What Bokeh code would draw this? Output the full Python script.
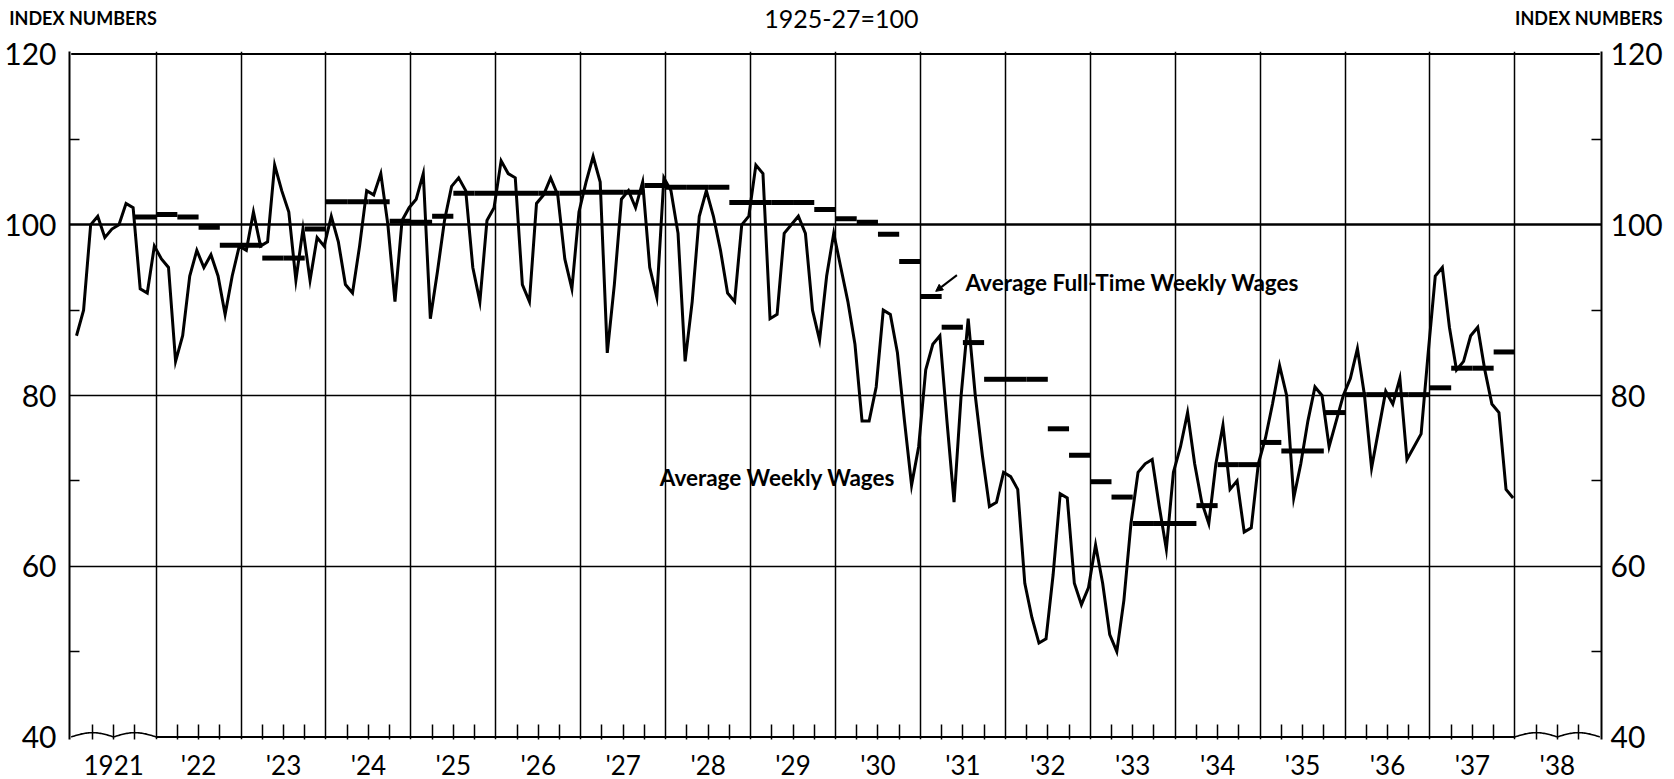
import numpy as np
from bokeh.plotting import figure
from bokeh.layouts import column
from bokeh.models import (FixedTicker, LinearAxis, Label, Arrow, NormalHead,
                          ColumnDataSource, Range1d, Grid)
from bokeh.embed import file_html
from bokeh.resources import INLINE

# ---------------- data (index numbers, 1925-27 = 100) ----------------
# Average Weekly Wages, monthly, Jan..Dec of each year
wages_1921 = [87, 90, 100, 101, 98.5, 99.5, 100, 102.5, 102, 92.5, 92, 97.5]
wages_1922 = [96, 95, 84, 87, 94, 97, 95, 96.5, 94, 89.5, 94, 97.5]
wages_1923 = [97, 101.5, 97.5, 98, 107, 104, 101.5, 93.5, 99.5, 93.5, 98.5, 97.5]
wages_1924 = [101, 98, 93, 92, 97.5, 104, 103.5, 106, 100, 91, 100.5, 102]
wages_1925 = [103, 106, 89, 94.5, 100.5, 104.5, 105.5, 104, 95, 91, 100.5, 102]
wages_1926 = [107.5, 106, 105.5, 93, 91, 102.5, 103.5, 105.5, 103.5, 96, 92.5, 101.5]
wages_1927 = [105, 108, 105, 85, 93, 103, 104, 102, 105, 95, 91.5, 105.5]
wages_1928 = [104, 99, 84, 91, 101, 104, 101, 97, 92, 91, 100, 101]
wages_1929 = [107, 106, 89, 89.5, 99, 100, 101, 99, 90, 86.5, 94, 99]
wages_1930 = [95, 91, 86, 77, 77, 81, 90, 89.5, 85, 77, 69.5, 74]
wages_1931 = [83, 86, 87, 77, 67.5, 80, 89, 80, 73, 67, 67.5, 71]
wages_1932 = [70.5, 69, 58, 54, 51, 51.5, 59, 68.5, 68, 58, 55.5, 57.5]
wages_1933 = [62.5, 58, 52, 50, 56, 65, 71, 72, 72.5, 67, 62, 71]
wages_1934 = [74, 78, 72, 67.5, 65, 72, 76.5, 69, 70, 64, 64.5, 72]
wages_1935 = [75, 79, 83.5, 80, 68, 72, 77, 81, 80, 74, 77, 80]
wages_1936 = [82, 85.5, 80, 71.5, 76, 80.5, 79, 82, 72.5, 74, 75.5, 85]
wages_1937 = [94, 95, 88, 83, 84, 87, 88, 83, 79, 78, 69, 68]

# Average Full-Time Weekly Wages, quarterly, from 1921 Q4 to 1937 Q4
ft_first_year = 1921
ft_first_quarter = 4
ft_values = [100.9,
             101.2, 100.9, 99.7, 97.6,
             97.6, 96.1, 96.1, 99.5,
             102.7, 102.7, 102.7, 100.4,
             100.3, 101.0, 103.7, 103.7,
             103.7, 103.7, 103.7, 103.7,
             103.8, 103.8, 103.8, 104.6,
             104.4, 104.4, 104.4, 102.6,
             102.6, 102.6, 102.6, 101.8,
             100.7, 100.3, 98.9, 95.7,
             91.6, 88.0, 86.2, 81.9,
             81.9, 81.9, 76.1, 73.0,
             69.9, 68.1, 65.0, 65.0,
             65.0, 67.1, 71.9, 71.9,
             74.5, 73.5, 73.5, 78.0,
             80.1, 80.1, 80.1, 80.1,
             80.9, 83.2, 83.2, 85.1]

# axis labels
x_years = list(range(1921, 1939))
x_labels = ["1921", "'22", "'23", "'24", "'25", "'26", "'27", "'28", "'29",
            "'30", "'31", "'32", "'33", "'34", "'35", "'36", "'37", "'38"]
y_major = [40, 60, 80, 100, 120]
y_minor = [50, 70, 90, 110]
grid_years = list(range(1922, 1939))

# ---------------- build series ----------------
wage_years = list(range(1921, 1938))
wage_lists = [wages_1921, wages_1922, wages_1923, wages_1924, wages_1925,
              wages_1926, wages_1927, wages_1928, wages_1929, wages_1930,
              wages_1931, wages_1932, wages_1933, wages_1934, wages_1935,
              wages_1936, wages_1937]
mx, my = [], []
for yr, vals in zip(wage_years, wage_lists):
    for m, v in enumerate(vals):
        mx.append(yr + (m + 0.75) / 12.0)
        my.append(v)
line_src = ColumnDataSource(dict(x=mx, y=my))

q0 = ft_first_year + (ft_first_quarter - 1) / 4.0
ft_x0 = [q0 + i / 4.0 for i in range(len(ft_values))]
ft_x1 = [x + 0.25 for x in ft_x0]
ft_src = ColumnDataSource(dict(x0=ft_x0, x1=ft_x1, y=ft_values))

FONT = "Lato"

# ---------------- layout constants ----------------
W = 1674
HEAD_H = 34
B_LEFT, B_RIGHT, B_TOP, B_BOTTOM = 69, 73, 17, 40
FRAME_W, FRAME_H = W - B_LEFT - B_RIGHT, 688
X0, X1 = 1920.98, 1939.02
pxy = FRAME_W / (X1 - X0)

p = figure(frame_width=FRAME_W, frame_height=FRAME_H,
           x_range=Range1d(X0, X1), y_range=Range1d(39.7, 120.3),
           output_backend="svg", toolbar_location=None,
           min_border_left=B_LEFT, min_border_right=B_RIGHT,
           min_border_top=B_TOP, min_border_bottom=B_BOTTOM)
p.outline_line_color = None
p.background_fill_color = "white"
p.border_fill_color = "white"
p.frame_align = False

# x axis
xa = p.xaxis[0]
xa.ticker = FixedTicker(ticks=[y + 0.5 for y in x_years],
                        minor_ticks=[y + q for y in x_years for q in (0.25, 0.75)])
xa.major_label_overrides = {y + 0.5: lab for y, lab in zip(x_years, x_labels)}
xa.axis_line_color = None
xa.major_tick_in = 15
xa.major_tick_out = 0
xa.minor_tick_in = 15
xa.minor_tick_out = 0
xa.major_tick_line_width = 1.5
xa.minor_tick_line_width = 1.5
xa.major_tick_line_color = "black"
xa.minor_tick_line_color = "black"
xa.major_label_text_font = FONT
xa.major_label_text_font_size = "26px"
xa.major_label_text_color = "black"
xa.major_label_standoff = 9

# y axes
def style_y(ax, standoff):
    ax.ticker = FixedTicker(ticks=y_major, minor_ticks=y_minor)
    ax.axis_line_color = "black"
    ax.axis_line_width = 2
    ax.major_tick_in = 0
    ax.major_tick_out = 0
    ax.minor_tick_in = 10
    ax.minor_tick_out = 0
    ax.minor_tick_line_width = 1.5
    ax.minor_tick_line_color = "black"
    ax.major_label_text_font = FONT
    ax.major_label_text_font_size = "30px"
    ax.major_label_text_color = "black"
    ax.major_label_standoff = standoff

style_y(p.yaxis[0], 13)
ry = LinearAxis()
p.add_layout(ry, "right")
style_y(ry, 9)

# grids
p.xgrid.ticker = FixedTicker(ticks=grid_years)
p.xgrid.grid_line_color = "black"
p.xgrid.grid_line_width = 1.5
p.ygrid.ticker = FixedTicker(ticks=[60, 80])
p.ygrid.grid_line_color = "black"
p.ygrid.grid_line_width = 1.5
g100 = Grid(dimension=1, ticker=FixedTicker(ticks=[100]),
            grid_line_color="black", grid_line_width=2.5)
p.add_layout(g100)

# frame top and bottom edges (bottom is broken by wavy lines in 1921 and 1938)
p.segment(x0=[x_years[0]], y0=[y_major[-1]], x1=[x_years[-1] + 1], y1=[y_major[-1]],
          line_color="black", line_width=2)
p.segment(x0=[grid_years[0]], y0=[y_major[0]], x1=[grid_years[-1]], y1=[y_major[0]],
          line_color="black", line_width=2)
for start in (x_years[0], x_years[-1]):
    t = np.linspace(0, 1, 80)
    p.line(start + t, y_major[0] + 0.5 * np.abs(np.sin(2 * np.pi * t)),
           line_color="black", line_width=1.6)

# data
p.line("x", "y", source=line_src, line_color="black", line_width=3,
       line_join="miter")
p.segment(x0="x0", y0="y", x1="x1", y1="y", source=ft_src,
          line_color="black", line_width=5, line_cap="butt")

# series labels
p.add_layout(Label(x=1927.93, y=70.4, text="Average Weekly Wages",
                   text_font=FONT, text_font_size="22.5px", text_font_style="bold",
                   text_color="black", text_baseline="alphabetic"))
p.add_layout(Label(x=1931.53, y=93.2, text="Average Full-Time Weekly Wages",
                   text_font=FONT, text_font_size="22.5px", text_font_style="bold",
                   text_color="black", text_baseline="alphabetic"))
p.add_layout(Arrow(end=NormalHead(size=7, fill_color="black", line_color="black"),
                   x_start=1931.43, y_start=94.1, x_end=1931.18, y_end=92.2,
                   line_color="black", line_width=2))

# ---------------- header strip (texts above the frame) ----------------
H0 = X0 - B_LEFT / pxy
H1 = X1 + B_RIGHT / pxy
h = figure(width=W, height=HEAD_H,
           x_range=Range1d(H0, H1), y_range=Range1d(0, HEAD_H),
           output_backend="svg", toolbar_location=None,
           x_axis_location=None, y_axis_location=None,
           min_border=0, min_border_left=0, min_border_right=0,
           min_border_top=0, min_border_bottom=0)
h.title = None
h.frame_align = False
h.outline_line_color = None
h.xgrid.visible = False
h.ygrid.visible = False
h.background_fill_color = "white"
h.border_fill_color = "white"
h.add_layout(Label(x=1930.07, y=16.5, text="1925-27=100",
                   text_font=FONT, text_font_size="25px",
                   text_color="black", text_align="center", text_baseline="alphabetic"))
h.add_layout(Label(x=1920.27, y=16.3, text="INDEX NUMBERS",
                   text_font=FONT, text_font_size="18px", text_font_style="bold",
                   text_color="black", text_baseline="alphabetic"))
h.add_layout(Label(x=1939.74, y=16.3, text="INDEX NUMBERS",
                   text_font=FONT, text_font_size="18px", text_font_style="bold",
                   text_color="black", text_align="right", text_baseline="alphabetic"))

layout = column(h, p, spacing=0)
open("out.html", "w").write(file_html(layout, INLINE))
